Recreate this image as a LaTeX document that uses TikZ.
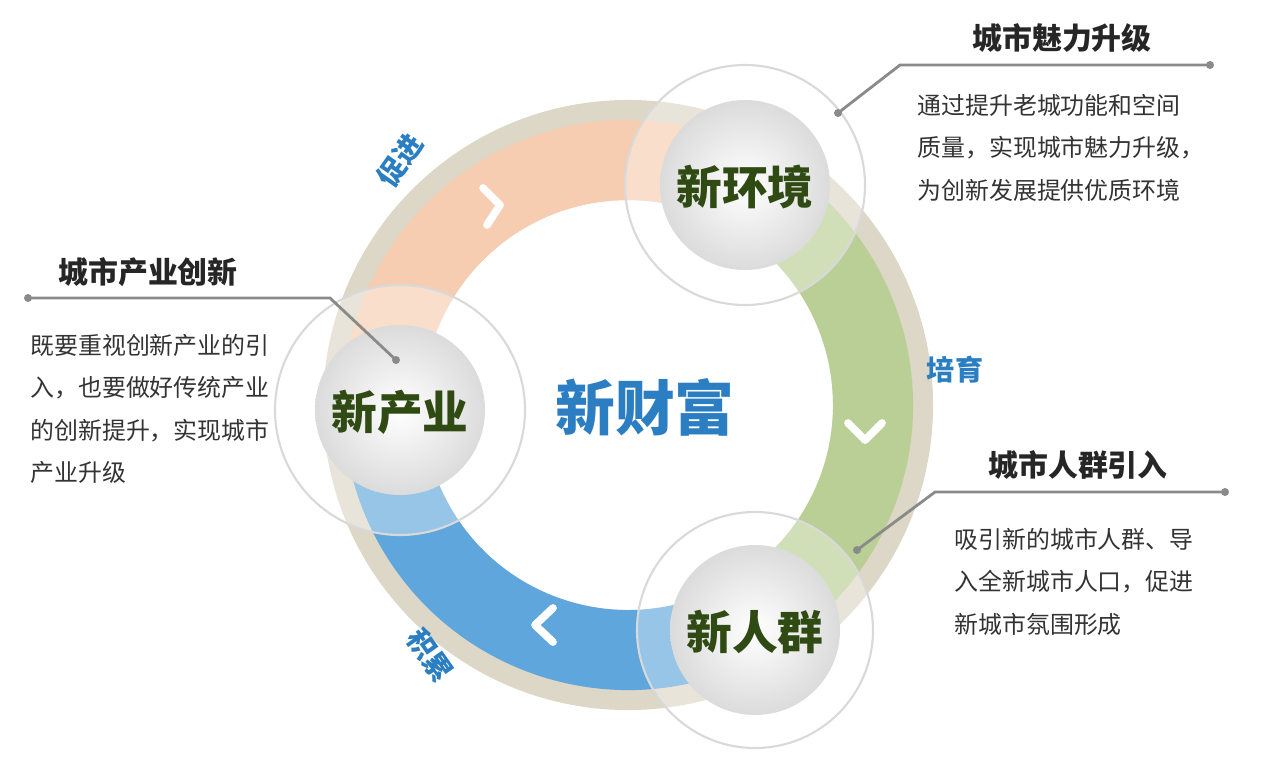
\documentclass[tikz,border=0pt]{standalone}
\usepackage{fontspec}
\setmainfont{Noto Sans CJK SC}
\usetikzlibrary{positioning}
\definecolor{ringbeige}{HTML}{DCD7C6}
\definecolor{segorange}{HTML}{F6CDB0}
\definecolor{seggreen}{HTML}{B9CF95}
\definecolor{segblue}{HTML}{5EA6DB}
\definecolor{wordgreen}{HTML}{2F4A12}
\definecolor{wordblue}{HTML}{2B7EC2}
\definecolor{leadgray}{HTML}{8A8A8A}
\tikzset{
  ballnode/.style={circle, minimum size=1.7cm, font=\fontsize{13}{13}\selectfont\bfseries, text=wordgreen},
  halo/.style={draw=gray!30, line width=0.6pt, fill=white, fill opacity=0.35},
  title/.style={font=\fontsize{8.5}{10}\selectfont\bfseries, text=black!85},
  body/.style={font=\fontsize{6.8}{12}\selectfont, text=black!80, align=left, anchor=north west},
  lead/.style={draw=leadgray, line width=0.8pt},
  verb/.style={font=\fontsize{8}{8}\selectfont\bfseries\itshape, text=wordblue},
  chev/.style={draw=white, line width=2.2pt, line cap=round, line join=round}
}
\begin{document}
\begin{tikzpicture}[x=0.01cm, y=-0.01cm]
  \useasboundingbox (0,0) rectangle (1280,772);
  % ring
  \coordinate (c) at (628,405);
  \draw[ringbeige, line width=1.0cm] (c) circle (255);
  \draw[segorange, line width=0.8cm] (c) ++(180:245) arc (180:298:245);
  \draw[seggreen, line width=0.8cm] (c) ++(-62:245) arc (-62:60:245);
  \draw[segblue, line width=0.8cm] (c) ++(60:245) arc (60:180:245);
  % chevrons
  \draw[chev] (483,188) -- (500,205) -- (487,225);
  \draw[chev] (848,423) -- (865,440) -- (882,423);
  \draw[chev] (553,608) -- (535,625) -- (553,642);
  % halos and spheres
  \draw[halo] (745,185) circle (120);
  \draw[halo] (400,410) circle (125);
  \draw[halo] (755,630) circle (118);
  \shade[inner color=white, outer color=gray!28] (745,185) circle (85);
  \shade[inner color=white, outer color=gray!28] (400,410) circle (85);
  \shade[inner color=white, outer color=gray!28] (755,630) circle (85);
  \node[ballnode] (env) at (745,187) {新环境};
  \node[ballnode] (ind) at (400,412) {新产业};
  \node[ballnode] (pop) at (755,632) {新人群};
  \node[font=\fontsize{17}{17}\selectfont\bfseries, text=wordblue] (wealth) at (645,407) {新财富};
  % verbs
  \node[verb, rotate=55] (v1) at (400,160) {促进};
  \node[verb] (v2) at (955,370) {培育};
  \node[verb, rotate=-55] (v3) at (430,655) {积累};
  % callouts
  \coordinate (e1) at (838,113);
  \coordinate (e2) at (900,65);
  \coordinate (e3) at (1210,65);
  \draw[lead] (e1) -- (e2) -- (e3);
  \fill[leadgray] (e1) circle (4) (e3) circle (4);
  \node[title] (t1) at (1062,38) {城市魅力升级};
  \node[body] (b1) at (905,82) {通过提升老城功能和空间\\质量，实现城市魅力升级，\\为创新发展提供优质环境};
  \coordinate (i1) at (396,360);
  \coordinate (i2) at (330,298);
  \coordinate (i3) at (28,298);
  \draw[lead] (i1) -- (i2) -- (i3);
  \fill[leadgray] (i1) circle (4) (i3) circle (4);
  \node[title] (t2) at (148,272) {城市产业创新};
  \node[body] (b2) at (18,322) {既要重视创新产业的引\\入，也要做好传统产业\\的创新提升，实现城市\\产业升级};
  \coordinate (p1) at (857,550);
  \coordinate (p2) at (935,492);
  \coordinate (p3) at (1225,492);
  \draw[lead] (p1) -- (p2) -- (p3);
  \fill[leadgray] (p1) circle (4) (p3) circle (4);
  \node[title] (t3) at (1078,465) {城市人群引入};
  \node[body] (b3) at (942,516) {吸引新的城市人群、导\\入全新城市人口，促进\\新城市氛围形成};
\end{tikzpicture}
\end{document}
